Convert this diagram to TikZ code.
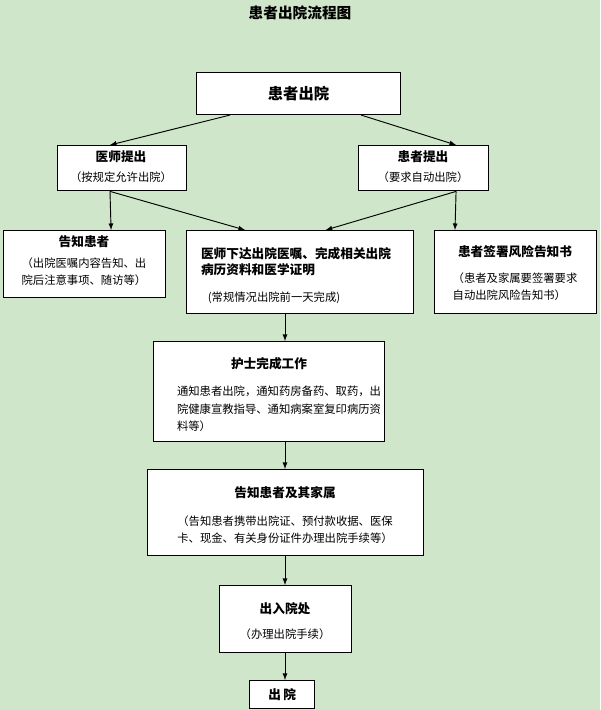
\documentclass[tikz,border=0pt]{standalone}
\usepackage{fontspec}
\setmainfont{Noto Sans CJK SC}
\usetikzlibrary{positioning}
\definecolor{bggreen}{RGB}{207,230,202}
\tikzset{
  box/.style={draw=black,fill=white,line width=0.8pt,anchor=north west,inner sep=0pt},
  arr/.style={-latex,line width=0.7pt},
  hd/.style={font=\bfseries\fontsize{9.5}{12}\selectfont},
  bd/.style={font=\fontsize{8.5}{13}\selectfont}
}
\begin{document}
\begin{tikzpicture}[x=0.75pt,y=-0.75pt]
\fill[bggreen] (0,0) rectangle (600,710);
\useasboundingbox (0,0) rectangle (600,710);
% title
\node[font=\bfseries\fontsize{11}{13}\selectfont] (title) at (300,13) {患者出院流程图};
% boxes
\node[box,minimum width=153pt,minimum height=31.5pt] (start) at (196,72) {};
\node[font=\bfseries\fontsize{11.5}{13}\selectfont] at (start.center) {患者出院};
\node[box,minimum width=97pt,minimum height=34pt] (doc) at (57,145) {};
\node[hd] at (121,157) {医师提出};
\node[bd] at (121,177) {（按规定允许出院）};
\node[box,minimum width=97.5pt,minimum height=34pt] (pat) at (358,145) {};
\node[hd] at (423,157) {患者提出};
\node[bd] at (423,177) {（要求自动出院）};
\node[box,minimum width=121.5pt,minimum height=50pt] (tell) at (3,230) {};
\node[hd] at (84,242) {告知患者};
\node[bd,align=left] at (84,272) {（出院医嘱内容告知、出\\院后注意事项、随访等）};
\node[box,minimum width=170pt,minimum height=62pt] (order) at (186,230) {};
\node[hd,align=left] at (296,262) {医师下达出院医嘱、完成相关出院\\病历资料和医学证明};
\node[bd] at (274,298) {(常规情况出院前一天完成)};
\node[box,minimum width=121.5pt,minimum height=62pt] (sign) at (434,230) {};
\node[hd] at (515,252) {患者签署风险告知书};
\node[bd,align=left] at (515,287) {（患者及家属要签署要求\\自动出院风险告知书）};
\node[box,minimum width=173pt,minimum height=75pt] (nurse) at (153,341) {};
\node[hd] at (269,364) {护士完成工作};
\node[bd,align=left] at (279,409) {通知患者出院，通知药房备药、取药，出\\院健康宣教指导、通知病案室复印病历资\\料等）};
\node[box,minimum width=207pt,minimum height=64.5pt] (fam) at (147,469) {};
\node[hd] at (285,493) {告知患者及其家属};
\node[bd,align=left] at (285,530) {（告知患者携带出院证、预付款收据、医保\\卡、现金、有关身份证件办理出院手续等）};
\node[box,minimum width=99pt,minimum height=50pt] (office) at (219,585) {};
\node[hd] at (285,609) {出入院处};
\node[bd] at (285,634) {（办理出院手续）};
\node[box,minimum width=49pt,minimum height=21pt] (out) at (249,680) {};
\node[hd] at (out.center) {出\,院};
% connectors
\draw[arr] ([xshift=25.5pt]start.south west) -- ([xshift=39.75pt]doc.north west);
\draw[arr] ([xshift=-30pt]start.south east) -- ([xshift=-24.75pt]pat.north east);
\draw[arr] ([xshift=39.75pt]doc.south west) -- ([xshift=-41.25pt]tell.north east);
\draw[arr] ([xshift=39.75pt]doc.south west) -- ([xshift=44.25pt]order.north west);
\draw[arr] ([xshift=-24.75pt]pat.south east) -- ([xshift=-66pt]order.north east);
\draw[arr] ([xshift=-24.75pt]pat.south east) -- ([xshift=15.75pt]sign.north west);
\draw[arr] ([xshift=74.25pt]order.south west) -- ([xshift=99pt]nurse.north west);
\draw[arr] ([xshift=99pt]nurse.south west) -- ([xshift=103.5pt]fam.north west);
\draw[arr] ([xshift=103.5pt]fam.south west) -- ([xshift=49.5pt]office.north west);
\draw[arr] ([xshift=49.5pt]office.south west) -- ([xshift=27pt]out.north west);
\end{tikzpicture}
\end{document}
